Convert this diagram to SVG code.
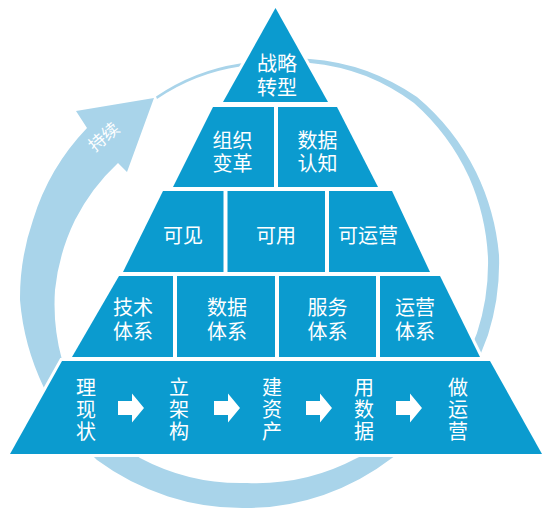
<svg xmlns="http://www.w3.org/2000/svg" width="550" height="520" viewBox="0 0 550 520">
<style>
.cell{fill:#0b9bcf;stroke:#ffffff;stroke-width:6;stroke-linejoin:miter;paint-order:stroke}
.lbl{fill:#ffffff;font-family:"Noto Sans CJK SC","Noto Sans",sans-serif;font-size:20px;text-anchor:middle}
.vlbl{fill:#ffffff;font-family:"Noto Sans CJK SC","Noto Sans",sans-serif;font-size:20px;text-anchor:middle;writing-mode:vertical-rl;letter-spacing:2px}
.ring{fill:#a9d4ea}
.barrow{fill:#ffffff}
</style>
<defs>
<path id="blockArrow" d="M0,401 h14 v-7.5 l12,14.5 l-12,14.5 v-7.5 h-14 z"/>
</defs>
<rect width="550" height="520" fill="#ffffff"/>
<g id="connectors">
<path class="ring" d="M156,96.5 A205,205 0 0 1 240,63.5 A212,212 0 0 1 310,59 A220,220 0 0 1 367,71 A228,228 0 0 1 417,97 A232,232 0 0 1 476,172 A236,236 0 0 1 499,255 A238,238 0 0 1 488,335 A238,238 0 0 1 392,458 A240,240 0 0 1 247,508 A245,245 0 0 1 97,460 A248,248 0 0 1 20,300 A240,240 0 0 1 33,220 A230,230 0 0 1 87,128 L76,111 L154,98 L127,172 L118,163 A205,205 0 0 0 75,220 A210,210 0 0 0 55,290 A212,212 0 0 0 62,360 A215,215 0 0 0 140,458 A215,215 0 0 0 247,483 A215,215 0 0 0 357,458 A220,220 0 0 0 477,333 A225,225 0 0 0 488,258 A228,228 0 0 0 469,177 A225,225 0 0 0 414,103 A218,218 0 0 0 366,76 A212,212 0 0 0 310,63 A205,205 0 0 0 240,66.5 A200,200 0 0 0 157,99 Z"/>
<text class="lbl" style="font-size:17px" transform="translate(104,137) rotate(-40)" y="6">持续</text>
</g>
<g id="n-zhanlue">
<polygon class="cell" points="275.5,8 328,102 223,102"/>
<text class="lbl"><tspan x="277" y="70.5">战略</tspan><tspan x="277" y="94.5">转型</tspan></text>
</g>
<g id="n-zuzhi">
<polygon class="cell" points="213,107 274,107 274,187 173,187"/>
<text class="lbl"><tspan x="232.5" y="147.5">组织</tspan><tspan x="232.5" y="171">变革</tspan></text>
</g>
<g id="n-shujurenzhi">
<polygon class="cell" points="278,107 337,107 378,187 278,187"/>
<text class="lbl"><tspan x="317.5" y="147.5">数据</tspan><tspan x="317.5" y="171">认知</tspan></text>
</g>
<g id="n-kejian">
<polygon class="cell" points="163,191 223.5,191 223.5,272 123,272"/>
<text class="lbl" x="183" y="242.5">可见</text>
</g>
<g id="n-keyong">
<polygon class="cell" points="227.5,191 325,191 325,272 227.5,272"/>
<text class="lbl" x="276" y="242.5">可用</text>
</g>
<g id="n-keyunying">
<polygon class="cell" points="329,191 392,191 430,272 329,272"/>
<text class="lbl" x="368" y="242.5">可运营</text>
</g>
<g id="n-jishu">
<polygon class="cell" points="119,276 173,276 173,357 72,357"/>
<text class="lbl"><tspan x="133" y="314.5">技术</tspan><tspan x="133" y="338.5">体系</tspan></text>
</g>
<g id="n-shujutixi">
<polygon class="cell" points="177,276 275,276 275,357 177,357"/>
<text class="lbl"><tspan x="227" y="314.5">数据</tspan><tspan x="227" y="338.5">体系</tspan></text>
</g>
<g id="n-fuwu">
<polygon class="cell" points="279,276 376,276 376,357 279,357"/>
<text class="lbl"><tspan x="327.5" y="314.5">服务</tspan><tspan x="327.5" y="338.5">体系</tspan></text>
</g>
<g id="n-yunying">
<polygon class="cell" points="380,276 440,276 480,357 380,357"/>
<text class="lbl"><tspan x="415" y="314.5">运营</tspan><tspan x="415" y="338.5">体系</tspan></text>
</g>
<g id="n-base">
<polygon class="cell" points="62,361 490,361 542,454 10,454"/>
<text class="vlbl" x="86" y="410">理现状</text>
<use href="#blockArrow" class="barrow" x="118"/>
<text class="vlbl" x="179" y="410">立架构</text>
<use href="#blockArrow" class="barrow" x="214"/>
<text class="vlbl" x="272" y="410">建资产</text>
<use href="#blockArrow" class="barrow" x="306"/>
<text class="vlbl" x="364" y="410">用数据</text>
<use href="#blockArrow" class="barrow" x="396"/>
<text class="vlbl" x="458" y="410">做运营</text>
</g>
</svg>
